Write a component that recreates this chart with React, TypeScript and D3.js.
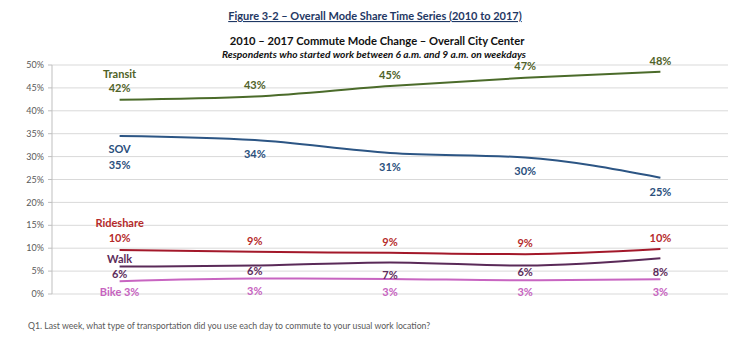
import React from "react";
import * as d3 from "d3";

const years = ["2010", "2012", "2014", "2016", "2017"];
const seriesNames = ["Transit", "SOV", "Rideshare", "Walk", "Bike"];
const transit = [42.4, 43.1, 45.4, 47.2, 48.5];
const sov = [34.5, 33.6, 30.8, 29.8, 25.4];
const rideshare = [9.6, 9.2, 9.0, 8.7, 9.8];
const walk = [6.0, 6.2, 6.9, 6.2, 7.8];
const bike = [2.8, 3.4, 3.3, 3.0, 3.2];
const transitLabels = ["42%", "43%", "45%", "47%", "48%"];
const sovLabels = ["35%", "34%", "31%", "30%", "25%"];
const rideshareLabels = ["10%", "9%", "9%", "9%", "10%"];
const walkLabels = ["6%", "6%", "7%", "6%", "8%"];
const bikeLabels = ["3%", "3%", "3%", "3%", "3%"];
const yTicks = [0, 5, 10, 15, 20, 25, 30, 35, 40, 45, 50];

const title = "Figure 3-2 – Overall Mode Share Time Series (2010 to 2017)";
const subtitle = "2010 – 2017 Commute Mode Change – Overall City Center";
const subtitle2 = "Respondents who started work between 6 a.m. and 9 a.m. on weekdays";
const footnote = "Q1. Last week, what type of transportation did you use each day to commute to your usual work location?";

// style config (positions of labels relative to points)
const styles = [
  { line: "#4b6b2a", text: "#4f6228", dy: [-12, -11, -11, -12, -11], nameDy: -26 },
  { line: "#2c5584", text: "#2a4f7c", dy: [29, 14, 14, 14, 14], nameDy: 13 },
  { line: "#a3182a", text: "#b52a2a", dy: [-12, -11, -11, -11, -11], nameDy: -27 },
  { line: "#5a2a58", text: "#5c2b5a", dy: [8, 6, 13, 7, 14], nameDy: -7 },
  { line: "#c865c1", text: "#c763bf", dy: [11, 13, 13, 12, 13], nameDy: 0 },
];

const FONT = "Lato, 'Open Sans', sans-serif";

export default function App() {
  const W = 749, H = 349;
  const x = d3.scaleBand<string>().domain(years).range([52, 728]).padding(0);
  const y = d3.scaleLinear().domain([0, 50]).range([294, 65]);
  const values = [transit, sov, rideshare, walk, bike];
  const labels = [transitLabels, sovLabels, rideshareLabels, walkLabels, bikeLabels];
  const cx = (yr: string) => (x(yr) as number) + x.bandwidth() / 2;
  const line = d3
    .line<number>()
    .x((_, i) => cx(years[i]))
    .y((v) => y(v))
    .curve(d3.curveMonotoneX);

  return (
    <svg width={W} height={H} style={{ position: "absolute", left: 0, top: 0, background: "#fff" }} fontFamily={FONT}>
      <text x={375} y={20} textAnchor="middle" fontSize={11} fontWeight={700} fill="#1f3864" textDecoration="underline">
        {title}
      </text>
      <text x={377} y={45} textAnchor="middle" fontSize={11.2} fontWeight={700} fill="#111">
        {subtitle}
      </text>
      <text x={374} y={58} textAnchor="middle" fontSize={10.2} fontWeight={700} fontStyle="italic" fill="#111">
        {subtitle2}
      </text>
      {yTicks.map((t) => (
        <g key={t}>
          <line x1={52} x2={728} y1={y(t)} y2={y(t)} stroke="#d9d9d9" strokeWidth={1} />
          <line x1={48} x2={52} y1={y(t)} y2={y(t)} stroke="#bfbfbf" strokeWidth={1} />
          <text x={44} y={y(t)} dy="0.35em" textAnchor="end" fontSize={9} fill="#595959">
            {t}%
          </text>
        </g>
      ))}
      <line x1={52} x2={52} y1={y(50)} y2={y(0)} stroke="#bfbfbf" strokeWidth={1} />
      {values.map((vals, s) => (
        <path key={"l" + s} d={line(vals) as string} fill="none" stroke={styles[s].line} strokeWidth={2} />
      ))}
      {values.map((vals, s) =>
        vals.map((v, i) => {
          const st = styles[s];
          const px = cx(years[i]);
          const py = y(v);
          if (i === 0 && s === 4) {
            return (
              <text key={s + "-" + i} x={px} y={py + st.dy[i]} dy="0.35em" textAnchor="middle" fontSize={11} fontWeight={700} fill={st.text}>
                {seriesNames[s] + " " + labels[s][i]}
              </text>
            );
          }
          return (
            <g key={s + "-" + i}>
              {i === 0 && (
                <text x={px} y={py + st.nameDy} dy="0.35em" textAnchor="middle" fontSize={11} fontWeight={700} fill={st.text}>
                  {seriesNames[s]}
                </text>
              )}
              <text x={px} y={py + st.dy[i]} dy="0.35em" textAnchor="middle" fontSize={11} fontWeight={700} fill={st.text}>
                {labels[s][i]}
              </text>
            </g>
          );
        })
      )}
      <text x={28} y={329} fontSize={8.7} fill="#595959">
        {footnote}
      </text>
    </svg>
  );
}
